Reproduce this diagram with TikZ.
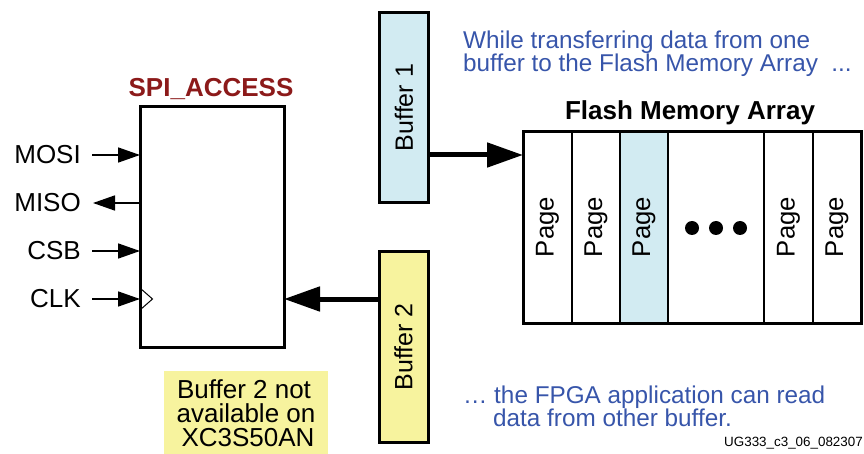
\documentclass[tikz,border=0pt]{standalone}
\usepackage{fontspec}
\setmainfont{Liberation Sans}
\usetikzlibrary{arrows.meta}
\definecolor{titlered}{RGB}{140,26,26}
\definecolor{noteblue}{RGB}{55,85,170}
\definecolor{bufblue}{RGB}{210,235,242}
\definecolor{bufyellow}{RGB}{247,243,158}
\begin{document}
\begin{tikzpicture}[x=1pt,y=-1pt,
  lbl/.style={font=\fontsize{26}{26}\selectfont, inner sep=0pt},
  bluetxt/.style={font=\fontsize{24.3}{23}\selectfont, text=noteblue, inner sep=0pt},
  boldtxt/.style={font=\bfseries\fontsize{26}{26}\selectfont, inner sep=0pt},
  thickbox/.style={draw, line width=3pt, inner sep=0pt, outer sep=0pt},
  bufbox/.style={draw, line width=3pt, rotate=90, minimum width=190pt, minimum height=49pt, inner sep=0pt, outer sep=0pt, font=\fontsize{25}{25}\selectfont},
  pinarrow/.style={line width=1.6pt, -{Triangle[length=22pt,width=15pt]}},
  bigarrow/.style={line width=5pt, -{Triangle[length=36pt,width=24pt]}},
  divider/.style={line width=1.5pt},
  pagetxt/.style={rotate=90, font=\fontsize{25.7}{25.7}\selectfont, inner sep=0pt}
]
\useasboundingbox (0,0) rectangle (864,454);

% SPI_ACCESS block
\node[thickbox, minimum width=144pt, minimum height=240pt, anchor=north west] (spi) at (140,107) {};
\node[font=\bfseries\fontsize{26}{26}\selectfont, text=titlered, inner sep=0pt, anchor=base] (spititle) at (211,97) {SPI\_ACCESS};

% pins
\node[lbl, anchor=east] (mosi) at (81,155) {MOSI};
\node[lbl, anchor=east] (miso) at (81,203) {MISO};
\node[lbl, anchor=east] (csb)  at (81,251) {CSB};
\node[lbl, anchor=east] (clk)  at (81,299) {CLK};
\coordinate (mosiL) at (92,155);
\coordinate (misoL) at (93,203);
\coordinate (csbL)  at (92,251);
\coordinate (clkL)  at (92,299);
\draw[pinarrow] (mosiL) -- (mosiL -| spi.west);
\draw[pinarrow] (misoL -| spi.west) -- (misoL);
\draw[pinarrow] (csbL) -- (csbL -| spi.west);
\draw[pinarrow] (clkL) -- (clkL -| spi.west);
\draw[line width=1pt, line join=miter] (140,288) -- (152.5,299) -- (140,310);

% Buffers
\node[bufbox, fill=bufblue] (b1) at (404,107.5) {Buffer 1};
\node[bufbox, fill=bufyellow] (b2) at (403.5,347) {Buffer 2};

% Flash memory array
\fill[bufblue] (620,132) rectangle (668,323);
\node[thickbox, minimum width=338pt, minimum height=191pt, anchor=north west] (flash) at (523,132) {};
\node[boldtxt, anchor=base] (flashtitle) at (690,120) {Flash Memory Array};
\foreach \x in {572,620,668,764,813}
  \draw[divider] (\x,132) -- (\x,323);
\foreach \x/\n in {547.5/p1,596/p2,644/p3,788.5/p4,837/p5}
  \node[pagetxt] (\n) at (\x,227) {Page};
\foreach \x/\n in {692/d1,716/d2,740/d3}
  \fill (\x,228) circle (7pt);

% arrows
\draw[bigarrow] (b1.south |- 0,155) -- (flash.west |- 0,155);
\draw[bigarrow] (b2.north |- 0,299) -- (spi.east |- 0,299);

% notes
\node[bluetxt, anchor=base west] (n1) at (463,49) {While transferring data from one};
\node[bluetxt, anchor=base west] (n2) at (463,72) {buffer to the Flash Memory Array~~...};
\node[bluetxt, anchor=base west] (n3) at (463,403) {… the FPGA application can read};
\node[bluetxt, anchor=base west] (n4) at (493,426) {data from other buffer.};
\node[font=\fontsize{13.4}{13.4}\selectfont, inner sep=0pt, anchor=base east] (ug) at (863,446) {UG333\_c3\_06\_082307};

% yellow note
\fill[bufyellow] (164,371) rectangle (328,454);
\node[lbl, anchor=base] (y1) at (244,398) {Buffer 2 not};
\node[lbl, anchor=base] (y2) at (246,422) {available on};
\node[lbl, anchor=base] (y3) at (248,446) {XC3S50AN};
\end{tikzpicture}
\end{document}
